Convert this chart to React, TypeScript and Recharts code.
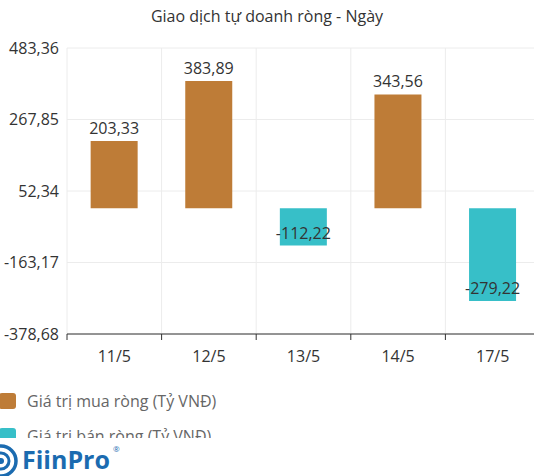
import React from 'react';
import { BarChart, Bar, XAxis, YAxis, CartesianGrid, LabelList, Cell } from 'recharts';

const dates = ['11/5', '12/5', '13/5', '14/5', '17/5'];
const netValues = [203.33, 383.89, -112.22, 343.56, -279.22];
const yTicks = [-378.68, -163.17, 52.34, 267.85, 483.36];
const legendNames = ['Giá trị mua ròng (Tỷ VNĐ)', 'Giá trị bán ròng (Tỷ VNĐ)'];

const BUY = '#BE7C37';
const SELL = '#37BFC8';
const FONT = '"Open Sans", "Noto Sans", sans-serif';

const data = dates.map((d, i) => ({ date: d, value: netValues[i] }));

const fmt = (v: number) => v.toFixed(2).replace('.', ',');

// ticks sit on the band edges, label in the middle
const DateTick = (props: any) => {
  const { x, y, payload } = props;
  const edge = x - (payload.offset || 0);
  return (
    <g>
      <line x1={edge} x2={edge} y1={y - 8} y2={y - 2} stroke="#333" strokeWidth={1} />
      <text x={x} y={y + 20} textAnchor="middle" fill="#333" fontSize={16} fontFamily={FONT}>
        {payload.value}
      </text>
    </g>
  );
};

const ValueLabel = (props: any) => {
  const { x, y, width, height, value } = props;
  const top = Math.min(y, y + height);
  const bottom = Math.max(y, y + height);
  const ty = value >= 0 ? top - 7 : bottom - 7;
  return (
    <text x={x + width / 2} y={ty} textAnchor="middle" fill="#333" fontSize={16} fontFamily={FONT}>
      {fmt(value)}
    </text>
  );
};

const App: React.FC = () => {
  return (
    <div style={{ position: 'absolute', left: 0, top: 0, width: 534, height: 476, overflow: 'hidden', background: '#fff', fontFamily: FONT }}>
      <div style={{ position: 'absolute', top: 5, left: 0, width: 534, textAlign: 'center', fontSize: 16, color: '#333' }}>
        Giao dịch tự doanh ròng - Ngày
      </div>
      <div style={{ position: 'absolute', left: 0, top: 0 }}>
        <BarChart width={560} height={380} data={data} margin={{ top: 48, right: 20, left: 8, bottom: 0 }} barCategoryGap="25%">
          <CartesianGrid
            stroke="#ececec"
            verticalCoordinatesGenerator={({ offset }: any) =>
              dates.map((_, i) => offset.left + (i * offset.width) / dates.length)
            }
          />
          <XAxis
            dataKey="date"
            height={46}
            axisLine={{ stroke: '#333' }}
            tickLine={false}
            tick={<DateTick />}
            interval={0}
          />
          <YAxis
            width={59}
            domain={[yTicks[0], yTicks[yTicks.length - 1]]}
            ticks={yTicks}
            axisLine={false}
            tickLine={false}
            tickFormatter={fmt}
            tick={{ fill: '#333', fontSize: 16, fontFamily: FONT }}
          />
          <Bar dataKey="value" isAnimationActive={false}>
            {data.map((entry, i) => (
              <Cell key={`cell-${i}`} fill={entry.value >= 0 ? BUY : SELL} />
            ))}
            <LabelList dataKey="value" content={<ValueLabel />} />
          </Bar>
        </BarChart>
      </div>
      {/* legend, its second row is cut off by the logo strip */}
      {legendNames.map((name, i) => (
        <div
          key={name}
          style={{
            position: 'absolute', left: 0, top: 390 + i * 35, height: i === 0 ? 22 : 13,
            overflow: i === 0 ? 'visible' : 'hidden', display: 'flex', alignItems: 'flex-start',
          }}
        >
          <div style={{ width: 17, height: 16, borderRadius: 3, background: i === 0 ? BUY : SELL, marginLeft: -1, marginTop: 3, flexShrink: 0 }} />
          <span style={{ marginLeft: 11, fontSize: 16, lineHeight: '22px', color: '#666', whiteSpace: 'nowrap' }}>
            {name}
          </span>
        </div>
      ))}
      {/* logo strip */}
      <div style={{ position: 'absolute', left: 0, top: 438, width: 534, height: 38, background: '#fff' }}>
        <svg width={140} height={38}>
          <circle cx={1} cy={23} r={15} fill="none" stroke="#1B6BB0" strokeWidth={3.5} />
          <circle cx={1} cy={23} r={8} fill="none" stroke="#1B6BB0" strokeWidth={3} />
          <circle cx={1} cy={23} r={3} fill="#1B6BB0" />
          <text x={22} y={31} fontSize={25} fontWeight={700} fill="#1B6BB0" fontFamily={FONT}>
            FiinPro
          </text>
          <text x={113} y={14} fontSize={8} fill="#1B6BB0" fontFamily={FONT}>
            ®
          </text>
        </svg>
      </div>
    </div>
  );
};

export default App;
